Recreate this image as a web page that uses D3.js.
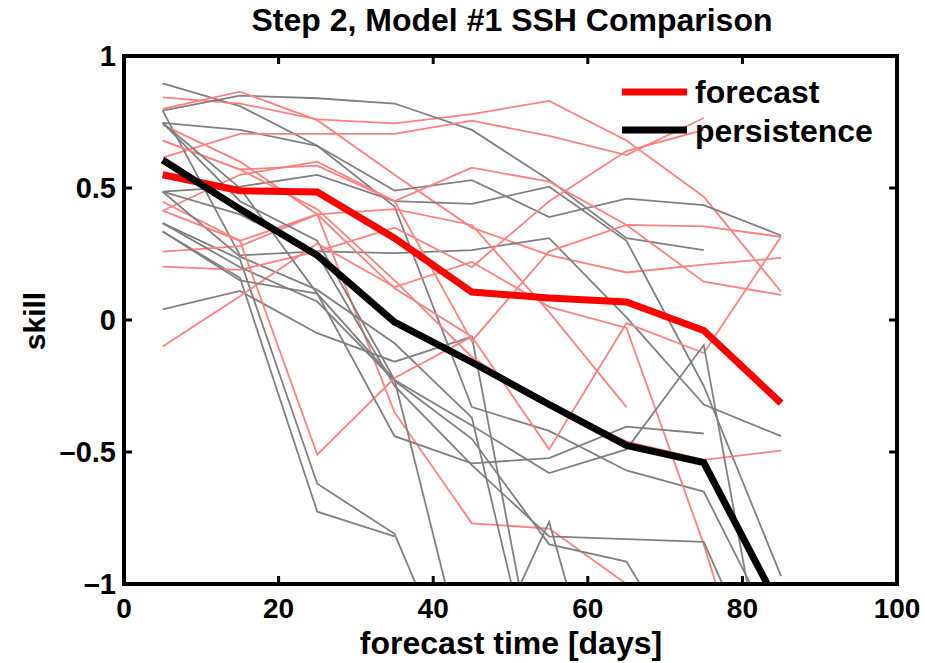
<!DOCTYPE html>
<html lang="en">
<head>
<meta charset="UTF-8">
<title>Step 2, Model #1 SSH Comparison</title>
<script src="https://d3js.org/d3.v7.min.js"></script>
<style>
  body { margin: 0; background: #fff; }
  svg { display: block; font-family: "Liberation Sans", Arial, sans-serif; font-weight: bold; }
</style>
</head>
<body>
<svg id="chart" width="925" height="663"></svg>
<script>
// forecast lead times (days)
const days = [5, 15, 25, 35, 45, 55, 65, 75, 85];

// mean skill curves
const forecast    = [0.55, 0.49, 0.485, 0.31, 0.106, 0.083, 0.068, -0.04, -0.315];
const persistence = [0.606, 0.42, 0.245, -0.008, -0.16, -0.32, -0.475, -0.54, -1.1];

// individual cases (null = no value)
const forecastCases = [
  [0.843, 0.82, 0.76, 0.745, 0.78, 0.83, 0.68, 0.467, 0.107],
  [0.80, 0.865, 0.757, 0.55, 0.35, 0.246, 0.18, 0.21, 0.235],
  [0.615, 0.705, 0.705, 0.705, 0.755, 0.697, 0.625, 0.765, null],
  [0.739, 0.60, 0.40, -0.35, -0.77, -0.79, -1.0, null, null],
  [0.448, 0.30, 0.40, 0.12, -0.063, -0.49, -0.012, -0.125, 0.315],
  [0.414, 0.55, 0.60, 0.45, -0.08, 0.26, 0.36, 0.355, 0.315],
  [0.68, 0.57, 0.42, 0.15, -0.14, -0.33, -0.46, -0.53, -0.495],
  [0.259, 0.28, 0.40, 0.42, 0.36, 0.03, -0.33, null, null],
  [0.202, 0.19, 0.26, 0.35, 0.20, 0.45, 0.64, 0.72, null],
  [-0.10, 0.09, 0.29, 0.125, 0.22, 0.05, -0.03, -0.85, -1.8],
  [0.68, 0.57, 0.585, 0.45, 0.577, 0.524, 0.36, 0.145, 0.095],
  [0.414, 0.30, -0.51, -0.22, -0.063, null, null, null, null]
];
const persistenceCases = [
  [0.896, 0.81, 0.66, 0.43, -0.33, -0.42, -0.57, -0.65, -1.23],
  [0.793, 0.85, 0.84, 0.82, 0.72, 0.53, 0.31, 0.265, null],
  [0.747, 0.72, 0.66, 0.49, 0.53, 0.39, 0.46, 0.435, 0.32],
  [0.793, 0.245, 0.26, 0.253, 0.265, 0.31, 0.01, -0.32, -0.44],
  [0.486, 0.505, 0.55, 0.45, 0.44, 0.505, 0.30, -0.25, -0.97],
  [0.04, 0.11, -0.05, -0.158, -0.063, -1.6, null, null, null],
  [0.367, 0.23, -0.62, -0.81, -1.5, null, null, null, null],
  [0.335, 0.16, -0.726, -0.82, null, null, null, null, null],
  [0.486, 0.24, 0.114, -0.088, -0.37, -1.6, null, null, null],
  [0.747, 0.45, 0.30, -0.227, -1.4, -0.765, -1.8, null, null],
  [0.367, 0.20, 0.07, -0.23, -0.45, -0.85, -0.915, -1.4, null],
  [0.486, 0.40, 0.25, -0.25, -0.55, -0.82, -0.83, -0.84, -1.5],
  [0.335, 0.15, 0.10, -0.227, -0.40, -0.58, -0.49, -0.095, -1.7],
  [0.747, 0.50, 0.10, -0.44, -0.543, -0.523, -0.404, -0.43, null]
];

const xTicks = [0, 20, 40, 60, 80, 100];
const yTicks = [-1, -0.5, 0, 0.5, 1];

const svg = d3.select("#chart");
const pLeft = 124, pRight = 897, pTop = 56, pBottom = 584;

const x = d3.scaleLinear().domain([0, 100]).range([pLeft, pRight]);
const y = d3.scaleLinear().domain([-1, 1]).range([pBottom, pTop]);

svg.append("clipPath").attr("id", "plotclip")
  .append("rect")
  .attr("x", pLeft).attr("y", pTop)
  .attr("width", pRight - pLeft).attr("height", pBottom - pTop);

const line = d3.line()
  .defined(d => d != null)
  .x((d, i) => x(days[i]))
  .y(d => y(d));

const plot = svg.append("g").attr("clip-path", "url(#plotclip)");

// thin lines, alternating like the original plotting order
const n = Math.max(forecastCases.length, persistenceCases.length);
for (let i = 0; i < n; i++) {
  if (persistenceCases[i]) {
    plot.append("path").datum(persistenceCases[i])
      .attr("d", line).attr("fill", "none")
      .attr("stroke", "#808080").attr("stroke-width", 1.8);
  }
  if (forecastCases[i]) {
    plot.append("path").datum(forecastCases[i])
      .attr("d", line).attr("fill", "none")
      .attr("stroke", "#ff8080").attr("stroke-width", 1.8);
  }
}

// thick mean lines
plot.append("path").datum(forecast)
  .attr("d", line).attr("fill", "none")
  .attr("stroke", "#ff0000").attr("stroke-width", 7);
plot.append("path").datum(persistence)
  .attr("d", line).attr("fill", "none")
  .attr("stroke", "#000").attr("stroke-width", 7);

// axes box and inward ticks
const axes = svg.append("g");
xTicks.slice(1, -1).forEach(t => {
  axes.append("line").attr("x1", x(t)).attr("x2", x(t))
    .attr("y1", pBottom).attr("y2", pBottom - 8).attr("stroke", "#000").attr("stroke-width", 3);
  axes.append("line").attr("x1", x(t)).attr("x2", x(t))
    .attr("y1", pTop).attr("y2", pTop + 8).attr("stroke", "#000").attr("stroke-width", 3);
});
yTicks.slice(1, -1).forEach(t => {
  axes.append("line").attr("x1", pLeft).attr("x2", pLeft + 8)
    .attr("y1", y(t)).attr("y2", y(t)).attr("stroke", "#000").attr("stroke-width", 3);
  axes.append("line").attr("x1", pRight).attr("x2", pRight - 8)
    .attr("y1", y(t)).attr("y2", y(t)).attr("stroke", "#000").attr("stroke-width", 3);
});
axes.append("rect")
  .attr("x", pLeft).attr("y", pTop)
  .attr("width", pRight - pLeft).attr("height", pBottom - pTop)
  .attr("fill", "none").attr("stroke", "#000").attr("stroke-width", 4);

// tick labels
svg.append("g").selectAll("text").data(xTicks).join("text")
  .attr("x", d => x(d)).attr("y", 618)
  .attr("text-anchor", "middle").attr("font-size", 28)
  .text(d => d);
svg.append("g").selectAll("text").data(yTicks).join("text")
  .attr("x", pLeft - 8).attr("y", d => y(d) + 10)
  .attr("text-anchor", "end").attr("font-size", 29)
  .text(d => d < 0 ? "\u2013" + Math.abs(d) : String(d));

// title and axis labels
svg.append("text").attr("x", 512).attr("y", 31)
  .attr("text-anchor", "middle").attr("font-size", 32)
  .text("Step 2, Model #1 SSH Comparison");
svg.append("text").attr("x", 511).attr("y", 654)
  .attr("text-anchor", "middle").attr("font-size", 32)
  .text("forecast time [days]");
svg.append("text")
  .attr("transform", "translate(45,321) rotate(-90)")
  .attr("text-anchor", "middle").attr("font-size", 30)
  .text("skill");

// legend
const legend = [
  { label: "forecast", color: "#ff0000", y: 92, base: 103 },
  { label: "persistence", color: "#000", y: 130, base: 142 }
];
legend.forEach(d => {
  svg.append("line").attr("x1", 622).attr("x2", 687)
    .attr("y1", d.y).attr("y2", d.y)
    .attr("stroke", d.color).attr("stroke-width", 7);
  svg.append("text").attr("x", 695).attr("y", d.base)
    .attr("font-size", 32).text(d.label);
});
</script>
</body>
</html>
